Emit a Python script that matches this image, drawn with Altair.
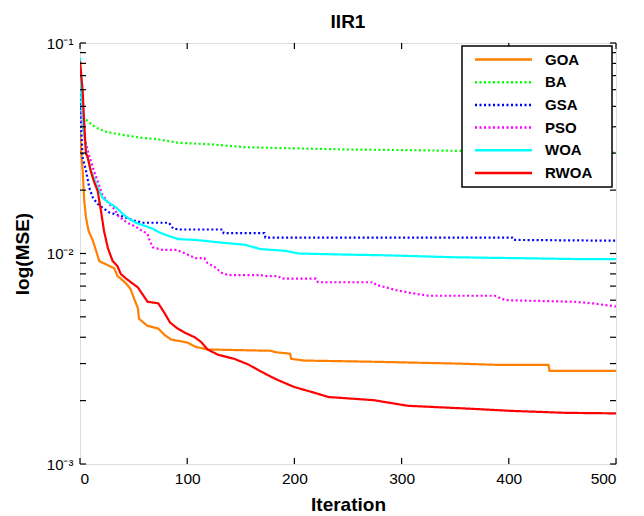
import altair as alt
import pandas as pd

names = ["GOA", "BA", "GSA", "PSO", "WOA", "RWOA"]
colors = ["#FF8000", "#00FF00", "#0000FF", "#FF00FF", "#00FFFF", "#FF0000"]
dashes = [[1, 0], [2, 2.5], [2, 2.5], [2, 2.5], [1, 0], [1, 0]]

goa_it = [0, 1, 2.5, 4, 5.6, 8, 12, 15, 18, 24, 28, 32, 35, 38, 43, 47, 51, 54, 55, 63, 73, 79, 85, 100, 108, 119, 178, 182, 196, 197, 209, 274, 351, 387, 437, 438, 500]
goa_val = [0.038, 0.0307, 0.0247, 0.0177, 0.0148, 0.0128, 0.0115, 0.0103, 0.0092, 0.0089, 0.0087, 0.0085, 0.0078, 0.0076, 0.0072, 0.0068, 0.0060, 0.0055, 0.0049, 0.00453, 0.0044, 0.0041, 0.0039, 0.00378, 0.0036, 0.0035, 0.00345, 0.0034, 0.00334, 0.00316, 0.0031, 0.00306, 0.0030, 0.00296, 0.00296, 0.00277, 0.00277]

ba_it = [0, 1, 2.5, 7, 15, 24, 34, 46, 58, 71, 91, 122, 154, 185, 250, 300, 400, 500]
ba_val = [0.06, 0.05, 0.045, 0.0426, 0.0396, 0.0379, 0.037, 0.0362, 0.0354, 0.035, 0.0336, 0.033, 0.032, 0.0317, 0.0312, 0.031, 0.0305, 0.0301]

gsa_it = [0, 1, 2.5, 5.6, 8.7, 12, 16.5, 21, 27, 34, 43, 49, 58, 83, 87, 94, 133, 134, 172, 173, 403, 404, 500]
gsa_val = [0.06, 0.04, 0.0285, 0.0247, 0.0205, 0.0184, 0.0172, 0.0165, 0.0157, 0.0153, 0.0148, 0.0144, 0.014, 0.014, 0.0131, 0.013, 0.013, 0.0125, 0.0125, 0.0119, 0.0119, 0.0116, 0.0115]

pso_it = [0, 2, 4, 7, 13, 16.5, 21, 27, 32, 36, 44, 52, 58, 63, 65, 68, 77, 90, 96, 108, 116, 119, 126, 132, 138, 169, 172, 185, 188, 220, 222, 274, 276, 295, 308, 325, 387, 397, 461, 478, 500]
pso_val = [0.05, 0.042, 0.036, 0.031, 0.0247, 0.022, 0.019, 0.0172, 0.0163, 0.015, 0.014, 0.0134, 0.0128, 0.0124, 0.0115, 0.0107, 0.0104, 0.0104, 0.0101, 0.0095, 0.0095, 0.009, 0.0086, 0.0081, 0.0079, 0.0079, 0.0078, 0.0078, 0.0076, 0.0076, 0.0073, 0.0073, 0.0071, 0.0067, 0.0065, 0.0063, 0.0063, 0.0060, 0.0059, 0.0058, 0.0056]

woa_it = [0, 1, 3, 6, 10, 15, 18, 21, 27, 34, 40, 46, 52, 61, 68, 74, 83, 92, 108, 129, 154, 168, 191, 204, 239, 287, 348, 409, 470, 500]
woa_val = [0.085, 0.06, 0.04, 0.03, 0.025, 0.0214, 0.0198, 0.0184, 0.0174, 0.0165, 0.0154, 0.0146, 0.014, 0.0135, 0.0131, 0.0126, 0.0121, 0.0117, 0.0116, 0.0113, 0.011, 0.0105, 0.0103, 0.0100, 0.0099, 0.0098, 0.0096, 0.0095, 0.0094, 0.0094]

rwoa_it = [0, 2.5, 4, 5.6, 7, 10, 13, 16.5, 19.6, 22.4, 26, 30.5, 35, 38, 43, 54, 63, 73, 79, 84, 91, 98, 107, 113, 119, 129, 144, 157, 166, 178, 185, 200, 216, 232, 274, 306, 365, 400, 453, 500]
rwoa_val = [0.082, 0.059, 0.041, 0.0297, 0.029, 0.0247, 0.022, 0.0198, 0.0159, 0.0128, 0.0106, 0.0092, 0.0087, 0.008, 0.0076, 0.0069, 0.0059, 0.0058, 0.0052, 0.0047, 0.0044, 0.0042, 0.0040, 0.0038, 0.0035, 0.0033, 0.00316, 0.00297, 0.0028, 0.0026, 0.0025, 0.00232, 0.0022, 0.00208, 0.00201, 0.00189, 0.00183, 0.00179, 0.00175, 0.00174]

series = [
    ("GOA", goa_it, goa_val),
    ("BA", ba_it, ba_val),
    ("GSA", gsa_it, gsa_val),
    ("PSO", pso_it, pso_val),
    ("WOA", woa_it, woa_val),
    ("RWOA", rwoa_it, rwoa_val),
]

x_ticks = [0, 100, 200, 300, 400, 500]
y_major = [0.001, 0.01, 0.1]
y_minor = [m * d for d in (0.001, 0.01) for m in range(2, 10)]

rows = []
for k, (nm, its, vals) in enumerate(series):
    for i, (a, b) in enumerate(zip(its, vals)):
        rows.append({"series": nm, "it": a, "val": b, "k": k, "i": i})
df = pd.DataFrame(rows)

W, H = 536, 421
FONT = "Liberation Sans"

xscale = alt.Scale(domain=[0, 500], nice=False, zero=False)
yscale = alt.Scale(type="log", domain=[0.001, 0.1], nice=False)
cscale = alt.Scale(domain=names, range=colors)
dscale = alt.Scale(domain=names, range=dashes)

lines = alt.Chart(df).mark_line(strokeWidth=2.2, clip=True).encode(
    x=alt.X("it:Q", scale=xscale, axis=alt.Axis(
        values=x_ticks, title="Iteration", ticks=False, domain=False, grid=False,
        labelFont=FONT, labelFontSize=15.5, labelColor="black", labelPadding=7,
        titleFont=FONT, titleFontSize=19, titleFontWeight="bold", titleColor="black",
        titlePadding=9)),
    y=alt.Y("val:Q", scale=yscale, axis=alt.Axis(
        values=y_major, title="log(MSE)", ticks=False, domain=False, grid=False,
        labelExpr="datum.value > 0.05 ? '10⁻¹' : (datum.value > 0.005 ? '10⁻²' : '10⁻³')",
        labelFont=FONT, labelFontSize=15, labelColor="black", labelPadding=7,
        titleFont=FONT, titleFontSize=19, titleFontWeight="bold", titleColor="black",
        titlePadding=14)),
    color=alt.Color("series:N", scale=cscale, legend=None),
    strokeDash=alt.StrokeDash("series:N", scale=dscale, legend=None),
    order=alt.Order("i:Q"),
    detail="k:N",
)

ydf = pd.DataFrame({"val": y_major + y_minor})
xdf = pd.DataFrame({"it": x_ticks})

tick_l = alt.Chart(ydf).mark_rule(color="black", strokeWidth=1.2).encode(
    y=alt.Y("val:Q", scale=yscale), x=alt.value(0), x2=alt.value(6))
tick_r = alt.Chart(ydf).mark_rule(color="black", strokeWidth=1.2).encode(
    y=alt.Y("val:Q", scale=yscale), x=alt.value(W - 6), x2=alt.value(W))
tick_b = alt.Chart(xdf).mark_rule(color="black", strokeWidth=1.2).encode(
    x=alt.X("it:Q", scale=xscale), y=alt.value(H - 6), y2=alt.value(H))
tick_t = alt.Chart(xdf).mark_rule(color="black", strokeWidth=1.2).encode(
    x=alt.X("it:Q", scale=xscale), y=alt.value(0), y2=alt.value(6))

# legend box (drawn inside the plot, top right)
leg_df = pd.DataFrame({"series": names, "row": list(range(len(names)))})
box = alt.Chart(pd.DataFrame({"a": [0]})).mark_rect(
    fill="white", stroke="black", strokeWidth=1.5).encode(
    x=alt.value(382), x2=alt.value(532), y=alt.value(3), y2=alt.value(144))
leg_lines = alt.Chart(leg_df).transform_calculate(
    py="16.5 + datum.row * 22.7").mark_rule(strokeWidth=2.5).encode(
    x=alt.value(395), x2=alt.value(452),
    y=alt.Y("py:Q", scale=None),
    color=alt.Color("series:N", scale=cscale, legend=None),
    strokeDash=alt.StrokeDash("series:N", scale=dscale, legend=None),
)
leg_text = alt.Chart(leg_df).transform_calculate(
    py="16.5 + datum.row * 22.7").mark_text(
    align="left", baseline="middle", font=FONT, fontSize=15, fontWeight="bold",
    color="black").encode(
    x=alt.value(465), y=alt.Y("py:Q", scale=None), text="series:N")

chart = alt.layer(lines, tick_l, tick_r, tick_b, tick_t, box, leg_lines, leg_text).properties(
    width=W, height=H,
    padding={"left": 5, "top": 5, "right": 5, "bottom": 0},
    title=alt.TitleParams("IIR1", font=FONT, fontSize=19, fontWeight="bold",
                          color="black", offset=4),
).configure_view(stroke="black", strokeWidth=2).configure(background="white")

chart.save("out.html", embed_options={"renderer": "svg", "actions": False})
